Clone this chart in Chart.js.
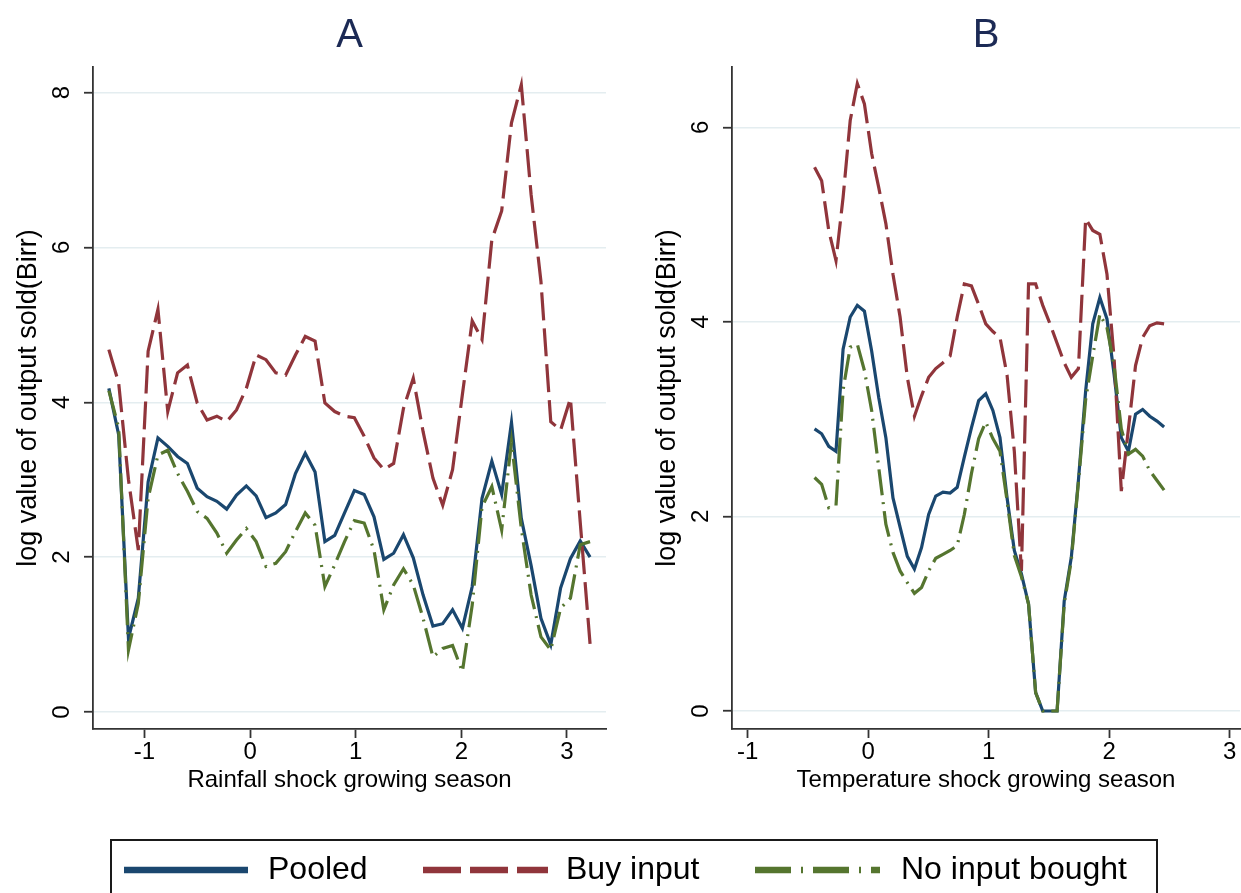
<!DOCTYPE html>
<html>
<head>
<meta charset="utf-8">
<script src="https://cdn.jsdelivr.net/npm/chart.js@4.4.1/dist/chart.umd.min.js"></script>
<style>
  body { margin: 0; background: #fff; }
  #page { position: relative; width: 1241px; height: 893px; overflow: hidden; background: #fff; }
  #panelA { position: absolute; left: 0; top: 0; }
  #panelB { position: absolute; left: 639px; top: 0; }
  #legendBox { position: absolute; left: 110px; top: 839px; width: 1048px; height: 90px;
               border: 2px solid #1a1a1a; box-sizing: border-box; }
  #legendKeys { position: absolute; left: 0; top: 0; }
</style>
</head>
<body>
<div id="page">
  <canvas id="panelA" width="620" height="795"></canvas>
  <canvas id="panelB" width="602" height="795"></canvas>
  <div id="legendBox"></div>
  <svg id="legendKeys" width="1241" height="893" font-family="Liberation Sans, Arial, sans-serif" font-size="32" fill="#000">
    <line x1="124" y1="870" x2="248" y2="870" stroke="#1a476f" stroke-width="6.5"/>
    <text x="268" y="879">Pooled</text>
    <line x1="423" y1="870" x2="548" y2="870" stroke="#90353b" stroke-width="6.5" stroke-dasharray="38 9"/>
    <text x="566" y="879">Buy input</text>
    <line x1="755" y1="870" x2="880" y2="870" stroke="#55752f" stroke-width="6.5" stroke-dasharray="36 10 2 10"/>
    <text x="901" y="879">No input bought</text>
  </svg>
</div>
<script>
const FONT = '"Liberation Sans", Arial, sans-serif';
const NAVY = '#1a476f';
const MAROON = '#90353b';
const GREEN = '#55752f';
const AXIS = '#333333';
const GRID = '#e4edf0';
const TITLE_COLOR = '#1c2a55';

// 面板 A：降雨冲击
const rainX = [-1.338, -1.245, -1.152, -1.059, -0.966, -0.873, -0.780, -0.687, -0.594, -0.501,
               -0.408, -0.315, -0.222, -0.129, -0.036, 0.057, 0.150, 0.243, 0.336, 0.429,
               0.522, 0.615, 0.708, 0.801, 0.894, 0.987, 1.080, 1.173, 1.266, 1.359,
               1.452, 1.545, 1.638, 1.731, 1.824, 1.917, 2.010, 2.103, 2.196, 2.289,
               2.382, 2.475, 2.568, 2.661, 2.754, 2.847, 2.940, 3.033, 3.126, 3.219];
const rainPooled = [4.18, 3.58, 0.95, 1.47, 2.97, 3.54, 3.43, 3.30, 3.21, 2.89,
                    2.78, 2.72, 2.62, 2.80, 2.92, 2.79, 2.51, 2.57, 2.68, 3.08,
                    3.34, 3.10, 2.20, 2.28, 2.57, 2.86, 2.81, 2.52, 1.97, 2.05,
                    2.29, 1.99, 1.51, 1.11, 1.14, 1.32, 1.08, 1.62, 2.76, 3.24,
                    2.81, 3.74, 2.50, 1.89, 1.21, 0.87, 1.60, 1.98, 2.21, 2.00];
const rainBuy = [4.68, 4.25, 3.00, 2.09, 4.66, 5.20, 3.88, 4.38, 4.48, 3.99,
                 3.77, 3.82, 3.75, 3.90, 4.18, 4.61, 4.55, 4.38, 4.35, 4.61,
                 4.85, 4.79, 3.99, 3.88, 3.82, 3.80, 3.56, 3.28, 3.13, 3.21,
                 3.92, 4.31, 3.62, 3.02, 2.67, 3.13, 4.10, 5.05, 4.81, 6.10,
                 6.47, 7.61, 8.10, 6.68, 5.56, 3.75, 3.64, 4.05, 2.45, 0.88];
const rainNone = [4.15, 3.67, 0.80, 1.40, 2.76, 3.32, 3.38, 3.08, 2.85, 2.59,
                  2.50, 2.31, 2.05, 2.22, 2.37, 2.20, 1.88, 1.92, 2.07, 2.33,
                  2.57, 2.41, 1.62, 1.90, 2.20, 2.47, 2.44, 2.09, 1.32, 1.64,
                  1.85, 1.64, 1.21, 0.71, 0.82, 0.86, 0.52, 1.38, 2.65, 2.91,
                  2.35, 3.49, 2.37, 1.51, 0.97, 0.80, 1.34, 1.47, 2.16, 2.20];
const rainXTicks = [-1, 0, 1, 2, 3];
const rainYTicks = [0, 2, 4, 6, 8];
const rainXRange = [-1.488, 3.37];
const rainYRange = [-0.22, 8.33];

// 面板 B：温度冲击
const tempX = [-0.445, -0.386, -0.327, -0.267, -0.208, -0.149, -0.090, -0.031, 0.029, 0.088,
               0.147, 0.206, 0.265, 0.325, 0.384, 0.443, 0.502, 0.561, 0.621, 0.680,
               0.739, 0.798, 0.857, 0.917, 0.976, 1.035, 1.094, 1.153, 1.213, 1.272,
               1.331, 1.390, 1.449, 1.509, 1.568, 1.627, 1.686, 1.745, 1.805, 1.864,
               1.923, 1.982, 2.041, 2.101, 2.160, 2.219, 2.278, 2.337, 2.397, 2.456];
const tempPooled = [2.90, 2.85, 2.72, 2.67, 3.72, 4.05, 4.17, 4.11, 3.70, 3.22,
                    2.81, 2.19, 1.89, 1.59, 1.46, 1.68, 2.02, 2.21, 2.25, 2.24,
                    2.30, 2.61, 2.91, 3.19, 3.26, 3.09, 2.81, 2.19, 1.65, 1.41,
                    1.10, 0.19, 0.00, 0.00, 0.00, 1.13, 1.58, 2.37, 3.29, 3.98,
                    4.25, 4.03, 3.46, 2.81, 2.67, 3.05, 3.10, 3.03, 2.98, 2.92];
const tempBuy = [5.59, 5.45, 4.94, 4.63, 5.28, 6.07, 6.45, 6.24, 5.73, 5.38,
                 5.01, 4.49, 4.05, 3.43, 3.03, 3.24, 3.43, 3.52, 3.58, 3.65,
                 4.05, 4.39, 4.37, 4.18, 3.98, 3.90, 3.84, 3.45, 2.67, 1.44,
                 4.39, 4.39, 4.17, 3.98, 3.78, 3.58, 3.43, 3.52, 5.06, 4.94,
                 4.90, 4.49, 3.63, 2.26, 2.90, 3.55, 3.84, 3.96, 3.99, 3.98];
const tempNone = [2.40, 2.33, 2.09, 2.11, 3.30, 3.74, 3.77, 3.50, 3.09, 2.50,
                  1.92, 1.63, 1.44, 1.32, 1.21, 1.27, 1.44, 1.57, 1.61, 1.65,
                  1.70, 2.02, 2.44, 2.80, 2.97, 2.80, 2.67, 2.16, 1.60, 1.38,
                  1.10, 0.19, 0.00, 0.00, 0.00, 1.10, 1.55, 2.35, 3.20, 3.65,
                  4.08, 3.94, 3.55, 2.90, 2.64, 2.69, 2.62, 2.47, 2.37, 2.27];
const tempXTicks = [-1, 0, 1, 2, 3];
const tempYTicks = [0, 2, 4, 6];
const tempXRange = [-1.13, 3.086];
const tempYRange = [-0.185, 6.62];

const yTitle = 'log value of output sold(Birr)';

// 把 x/y 数组拼成点
function toPoints(xs, ys) {
    return xs.map((x, i) => ({ x: x, y: ys[i] }));
}

function buildPanel(canvasId, p) {
    const ctx = document.getElementById(canvasId).getContext('2d');
    return new Chart(ctx, {
        type: 'line',
        data: {
            datasets: [
                { label: 'Pooled', data: toPoints(p.x, p.pooled), borderColor: NAVY, borderWidth: 3.2, order: 3 },
                { label: 'Buy input', data: toPoints(p.x, p.buy), borderColor: MAROON, borderWidth: 3.2, borderDash: [28, 8], order: 2 },
                { label: 'No input bought', data: toPoints(p.x, p.none), borderColor: GREEN, borderWidth: 3.2, borderDash: [26, 7, 2, 7], order: 1 }
            ]
        },
        options: {
            responsive: false,
            animation: false,
            layout: { padding: { left: 0, right: p.padRight, top: 0, bottom: 0 } },
            elements: {
                point: { radius: 0, hoverRadius: 0 },
                line: { tension: 0, fill: false, borderCapStyle: 'butt', borderJoinStyle: 'miter' }
            },
            plugins: {
                legend: { display: false },
                tooltip: { enabled: false },
                title: {
                    display: true,
                    text: p.title,
                    fullSize: false,
                    color: TITLE_COLOR,
                    font: { family: FONT, size: 40, weight: 'normal' },
                    padding: { top: 12, bottom: 7 }
                }
            },
            scales: {
                x: {
                    type: 'linear',
                    min: p.xRange[0],
                    max: p.xRange[1],
                    afterBuildTicks: s => { s.ticks = p.xTicks.map(v => ({ value: v })); },
                    afterFit: s => { s.height = 66; },
                    ticks: { padding: 0, color: '#000', font: { family: FONT, size: 24 }, callback: v => String(v) },
                    grid: { drawOnChartArea: false, drawTicks: true, tickLength: 9, tickColor: AXIS, tickWidth: 1.8 },
                    border: { display: true, color: AXIS, width: 1.8 },
                    title: { display: true, text: p.xTitle, color: '#000', font: { family: FONT, size: 24 }, padding: { top: 0, bottom: 0 } }
                },
                y: {
                    type: 'linear',
                    min: p.yRange[0],
                    max: p.yRange[1],
                    afterBuildTicks: s => { s.ticks = p.yTicks.map(v => ({ value: v })); },
                    afterFit: s => { s.width = 93; },
                    ticks: { padding: 15, crossAlign: 'center', minRotation: 90, maxRotation: 90, color: '#000', font: { family: FONT, size: 24 }, callback: v => String(v) },
                    grid: { color: GRID, lineWidth: 1.5, drawTicks: true, tickLength: 9, tickColor: AXIS, tickWidth: 1.8 },
                    border: { display: true, color: AXIS, width: 1.8 },
                    title: { display: true, text: yTitle, color: '#000', font: { family: FONT, size: 27 }, padding: { top: 12, bottom: 0 } }
                }
            }
        }
    });
}

buildPanel('panelA', {
    title: 'A', xTitle: 'Rainfall shock growing season',
    x: rainX, pooled: rainPooled, buy: rainBuy, none: rainNone,
    xTicks: rainXTicks, yTicks: rainYTicks, xRange: rainXRange, yRange: rainYRange,
    padRight: 14
});

buildPanel('panelB', {
    title: 'B', xTitle: 'Temperature shock growing season',
    x: tempX, pooled: tempPooled, buy: tempBuy, none: tempNone,
    xTicks: tempXTicks, yTicks: tempYTicks, xRange: tempXRange, yRange: tempYRange,
    padRight: 1
});
</script>
</body>
</html>
